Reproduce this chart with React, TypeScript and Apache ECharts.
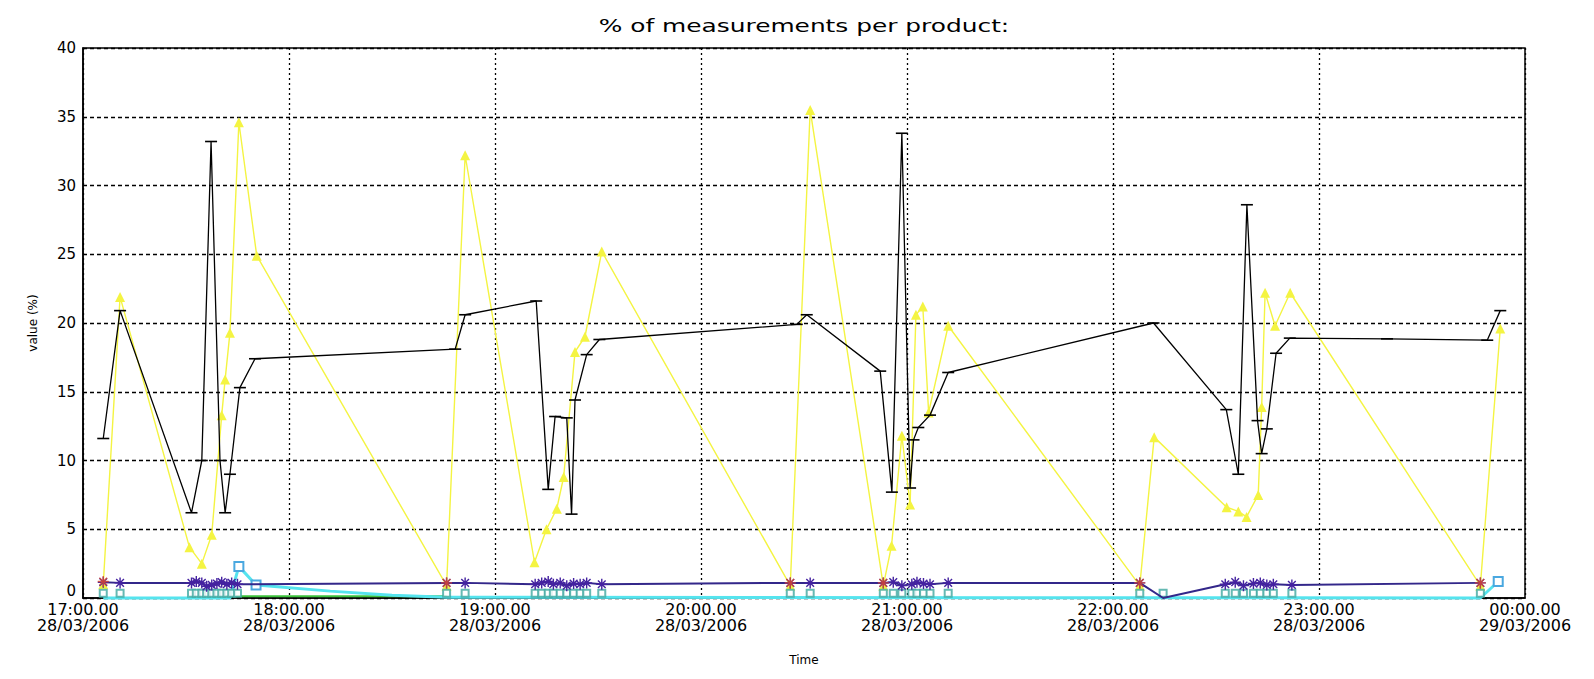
import React, { useEffect, useRef } from 'react';
import * as echarts from 'echarts';

// x axis: minutes after 17:00 on 28/03/2006
const xTickLabels = [
  '17:00.00\n28/03/2006',
  '18:00.00\n28/03/2006',
  '19:00.00\n28/03/2006',
  '20:00.00\n28/03/2006',
  '21:00.00\n28/03/2006',
  '22:00.00\n28/03/2006',
  '23:00.00\n28/03/2006',
  '00:00.00\n29/03/2006',
];

const blackMinutes = [
  5.9, 10.8, 31.6, 34.6, 37.3, 39.9, 41.4, 42.8, 45.7, 50.1,
  108.4, 111.3, 132.0, 135.5, 137.5, 140.9, 142.3, 143.3, 146.7, 150.4,
  207.9, 210.8, 232.2, 235.6, 238.5, 240.9, 241.9, 243.3, 246.7, 252.0,
  311.8, 333.0, 336.5, 339.0, 342.1, 343.3, 344.8, 347.5, 351.5, 379.8, 409.0, 412.8,
];
const blackValues = [
  11.6, 20.9, 6.2, 10.0, 33.2, 10.0, 6.2, 9.0, 15.3, 17.4,
  18.1, 20.6, 21.6, 7.9, 13.2, 13.1, 6.1, 14.4, 17.7, 18.8,
  19.9, 20.6, 16.5, 7.7, 33.8, 8.0, 11.5, 12.4, 13.3, 16.4,
  20.0, 13.7, 9.0, 28.6, 12.9, 10.5, 12.3, 17.8, 18.9, 18.85, 18.75, 20.9,
];

const yellowMinutes = [
  5.9, 10.8, 31.0, 34.6, 37.5, 40.4, 41.4, 42.8, 45.4, 50.6,
  105.9, 111.3,
  131.5, 135.0, 138.0, 140.0, 143.3, 146.2, 151.1,
  206.0, 211.8,
  233.1, 235.5, 238.5, 240.9, 242.6, 244.6, 246.3, 252.0,
  307.8, 312.0,
  333.1, 336.5, 338.9, 342.3, 343.3, 344.3, 347.2, 351.6,
  407.0, 412.8,
];
const yellowValues = [
  1.0, 21.9, 3.7, 2.5, 4.6, 13.3, 15.9, 19.3, 34.6, 24.9,
  0.9, 32.2,
  2.6, 5.0, 6.5, 8.8, 17.9, 19.0, 25.2,
  0.9, 35.5,
  0.9, 3.8, 11.8, 6.8, 20.6, 21.2, 13.5, 19.8,
  0.9, 11.7,
  6.6, 6.3, 5.9, 7.5, 13.9, 22.2, 19.8, 22.2,
  0.9, 19.6,
];

const navyMinutes = [
  5.9, 10.8, 31.6, 33.0, 34.6, 36.0, 37.5, 39.0, 40.4, 41.9, 43.3, 45.0,
  105.9, 111.3,
  131.7, 133.6, 135.5, 137.0, 139.0, 140.9, 142.9, 144.8, 146.7, 151.1,
  206.0, 211.8,
  233.1, 236.0, 238.5, 241.4, 242.9, 244.8, 246.7, 252.0,
  307.8, 314.6,
  332.7, 335.6, 338.0, 340.9, 342.9, 344.8, 346.7, 352.1,
  407.0,
];
const navyValues = [
  1.15, 1.1, 1.1, 1.2, 1.1, 0.85, 0.95, 1.05, 1.15, 1.0, 1.1, 1.0,
  1.1, 1.1,
  1.0, 1.1, 1.2, 1.0, 1.1, 0.9, 1.05, 1.0, 1.1, 1.0,
  1.1, 1.1,
  1.1, 1.15, 0.9, 1.0, 1.15, 1.05, 1.0, 1.1,
  1.1, 0.0,
  1.0, 1.15, 0.9, 1.05, 1.1, 0.95, 1.0, 0.95,
  1.1,
];

const tealValues = [
  0.35, 0.35, 0.35, 0.35, 0.35, 0.35, 0.35, 0.35, 0.35, 0.35, 0.35, 0.35,
  0.35, 0.35,
  0.35, 0.35, 0.35, 0.35, 0.35, 0.35, 0.35, 0.35, 0.35, 0.35,
  0.35, 0.35,
  0.35, 0.35, 0.35, 0.35, 0.35, 0.35, 0.35, 0.35,
  0.35, 0.35,
  0.35, 0.35, 0.35, 0.35, 0.35, 0.35, 0.35, 0.35,
  0.35,
];

const redMinutes = [5.9, 105.9, 206.0, 233.1, 307.8, 407.0];
const redValues = [1.2, 1.1, 1.1, 1.1, 1.1, 1.1];

const cyanMinutes = [5.9, 42.8, 45.4, 50.4, 72.0, 90.0, 105.9, 407.0, 412.2];
const cyanValues = [0, 0, 2.3, 0.95, 0.5, 0.2, 0.05, 0, 1.2];

const greenMinutes = [41.4, 105.9];
const greenValues = [0.12, 0.12];

const zip = (m: number[], v: number[]) => m.map((t, i) => [t, v[i]]);

const ASTERISK = 'path://M5,0L5,10M0,5L10,5M1.5,1.5L8.5,8.5M8.5,1.5L1.5,8.5';

export default function App() {
  const ref = useRef<HTMLDivElement>(null);
  useEffect(() => {
    const chart = echarts.init(ref.current!, null, { renderer: 'svg' });
    chart.setOption({
      animation: false,
      backgroundColor: '#ffffff',
      textStyle: { fontFamily: 'DejaVu Sans' },
      graphic: [
        {
          type: 'text',
          x: 804,
          y: 26,
          scaleX: 1.38,
          style: {
            text: '% of measurements per product:',
            font: '18px DejaVu Sans',
            fill: '#000',
            textAlign: 'center',
            textVerticalAlign: 'middle',
            align: 'center',
            verticalAlign: 'middle',
          },
        },
      ],
      grid: {
        left: 83,
        right: 69,
        top: 48,
        bottom: 81,
        show: true,
        borderColor: '#000',
        borderWidth: 1.5,
        backgroundColor: 'transparent',
      },
      xAxis: {
        type: 'value',
        min: 0,
        max: 420,
        interval: 60,
        name: 'Time',
        nameLocation: 'middle',
        nameGap: 56,
        nameTextStyle: { fontSize: 12, color: '#000', fontFamily: 'DejaVu Sans' },
        axisLine: { show: true, lineStyle: { color: '#000', width: 1.5 } },
        axisTick: { show: false },
        axisLabel: {
          formatter: (v: number) => xTickLabels[Math.round(v / 60)],
          fontSize: 16,
          lineHeight: 16,
          color: '#000',
          margin: 3,
          fontFamily: 'DejaVu Sans',
        },
        splitLine: { show: true, lineStyle: { color: '#000', type: [2, 3], width: 1.3 } },
      },
      yAxis: {
        type: 'value',
        min: 0,
        max: 40,
        interval: 5,
        name: 'value (%)',
        nameLocation: 'middle',
        nameGap: 44,
        nameRotate: 90,
        nameTextStyle: { fontSize: 12, color: '#000', fontFamily: 'DejaVu Sans' },
        axisLine: { show: true, lineStyle: { color: '#000', width: 1.5 } },
        axisTick: { show: false },
        axisLabel: {
          fontSize: 15,
          color: '#000',
          margin: 7,
          fontFamily: 'DejaVu Sans',
          formatter: (v: number) => (v === 0 ? '{z|0}' : String(v)),
          rich: { z: { fontSize: 15, lineHeight: 15, color: '#000', padding: [0, 0, 14, 0] } },
        },
        splitLine: { show: true, lineStyle: { color: '#000', type: [4, 3], width: 1.3 } },
      },
      series: [
        {
          name: 'green',
          type: 'line',
          data: zip(greenMinutes, greenValues),
          symbol: 'none',
          lineStyle: { color: '#3cc23c', width: 2 },
          z: 2,
        },
        {
          name: 'cyan',
          type: 'line',
          clip: false,
          data: zip(cyanMinutes, cyanValues),
          symbol: (val: number[]) => (val[1] > 0.5 ? 'emptyRect' : 'none'),
          symbolSize: 9,
          itemStyle: { color: '#4aa8e0', borderColor: '#4aa8e0', borderWidth: 1.5 },
          lineStyle: { color: '#55e4ee', width: 3 },
          z: 3,
        },
        {
          name: 'yellow',
          type: 'line',
          data: zip(yellowMinutes, yellowValues),
          symbol: 'triangle',
          symbolSize: 10,
          showAllSymbol: true,
          itemStyle: { color: '#f4f442' },
          lineStyle: { color: '#f4f442', width: 1.4 },
          z: 4,
        },
        {
          name: 'black',
          type: 'line',
          data: zip(blackMinutes, blackValues),
          symbol: 'rect',
          symbolSize: [12, 1.6],
          showAllSymbol: true,
          itemStyle: { color: '#000' },
          lineStyle: { color: '#000', width: 1.3 },
          z: 5,
        },
        {
          name: 'teal',
          type: 'scatter',
          data: zip(navyMinutes, tealValues),
          symbol: 'emptyRect',
          symbolSize: 7,
          itemStyle: { color: '#3fa8a0', borderColor: '#3fa8a0', borderWidth: 1.3 },
          z: 6,
        },
        {
          name: 'navy',
          type: 'line',
          data: zip(navyMinutes, navyValues),
          symbol: (val: number[]) => (val[1] > 0.3 ? ASTERISK : 'none'),
          symbolSize: 11,
          showAllSymbol: true,
          itemStyle: { color: '#4422a0', borderColor: '#4422a0', borderWidth: 1.4 },
          lineStyle: { color: '#33278a', width: 2 },
          z: 7,
        },
        {
          name: 'red',
          type: 'scatter',
          data: zip(redMinutes, redValues),
          symbol: ASTERISK,
          symbolSize: 11,
          itemStyle: { color: '#e04a2a', borderColor: '#e04a2a', borderWidth: 1.4 },
          z: 8,
        },
      ],
    });
    return () => chart.dispose();
  }, []);
  return (
    <div
      ref={ref}
      style={{ position: 'absolute', left: 0, top: 0, width: 1594, height: 679, background: '#fff' }}
    />
  );
}
